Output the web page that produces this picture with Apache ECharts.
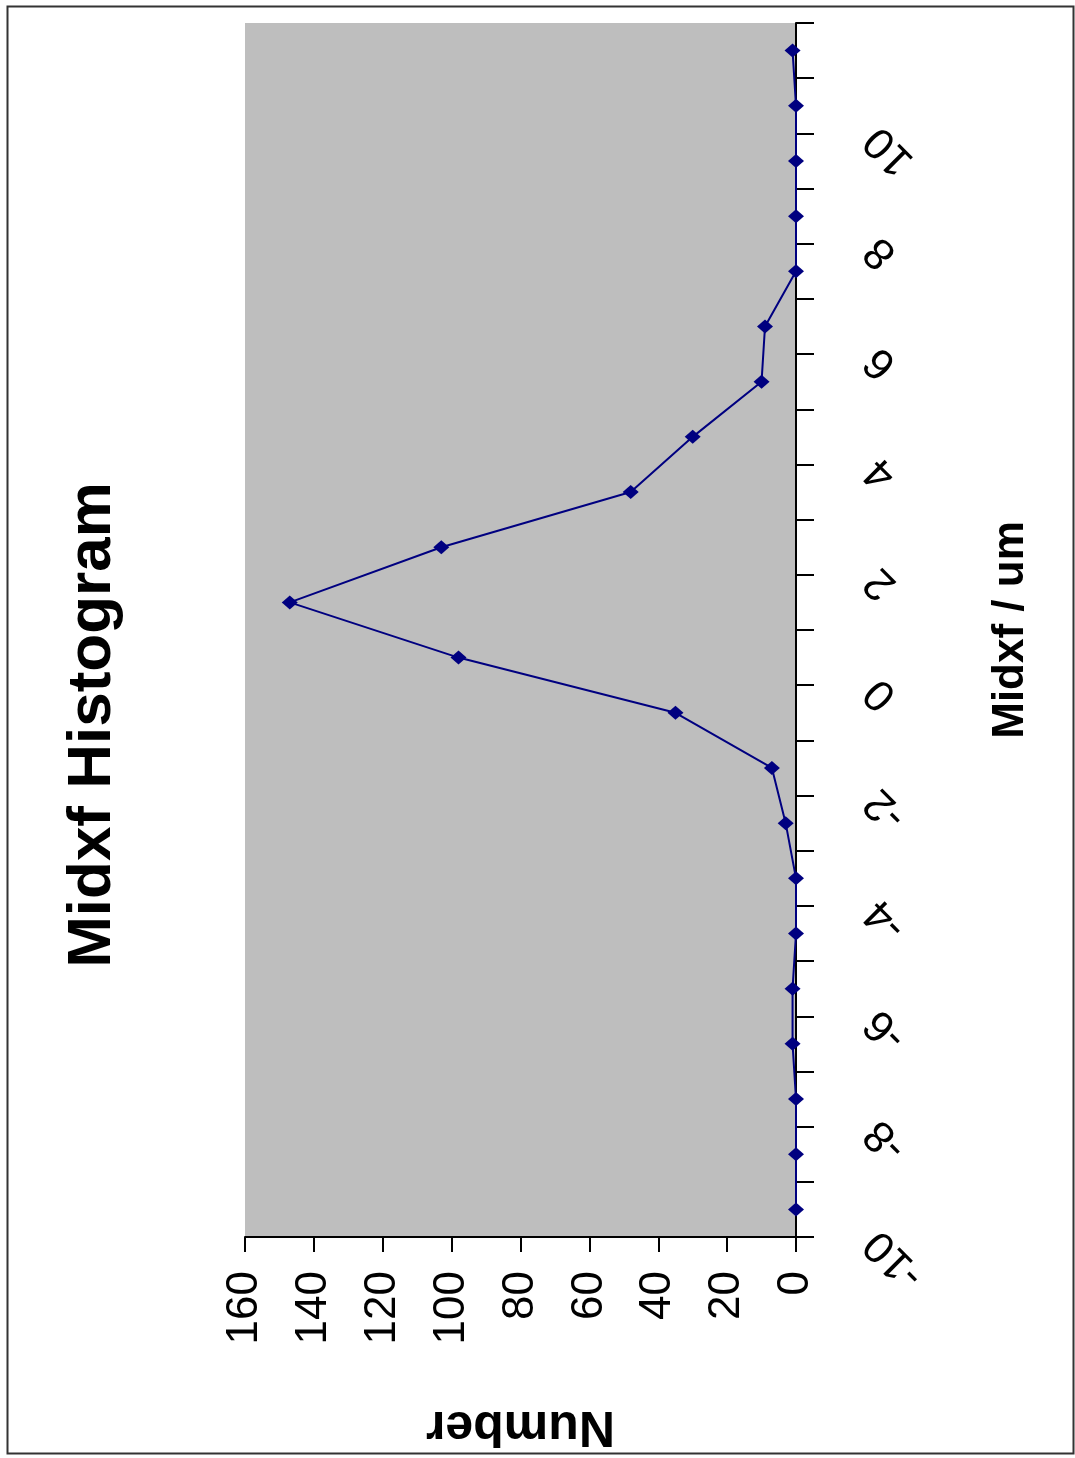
<!DOCTYPE html>
<html>
<head>
<meta charset="utf-8">
<script src="https://cdn.jsdelivr.net/npm/echarts@6/dist/echarts.min.js"></script>
<style>
html,body{margin:0;padding:0;background:#fff;}
#chart{width:1075px;height:1458px;}
</style>
</head>
<body>
<div id="chart"></div>
<script>
var chartTitle = 'Midxf Histogram';
var binCenters = [-9.5,-8.5,-7.5,-6.5,-5.5,-4.5,-3.5,-2.5,-1.5,-0.5,0.5,1.5,2.5,3.5,4.5,5.5,6.5,7.5,8.5,9.5,10.5,11.5];
var counts = [0,0,0,1,1,0,0,3,7,35,98,147,103,48,30,10,9,0,0,0,0,1];
var midxfLabels = [-10,-8,-6,-4,-2,0,2,4,6,8,10];
var numberTicks = [0,20,40,60,80,100,120,140,160];

var chart = echarts.init(document.getElementById('chart'));
var pts = binCenters.map(function(c,i){ return [counts[i], c]; });
var font = 'Arial, "Liberation Sans", sans-serif';

chart.setOption({
  animation:false,
  backgroundColor:'#ffffff',
  graphic:[
    {type:'rect', left:5, top:4, shape:{width:1066, height:1447}, style:{fill:'none', stroke:'#333', lineWidth:2}, z:-1},
    {type:'text', x:93, y:725, rotation:Math.PI/2,
     style:{text:chartTitle, font:'bold 62px ' + font, fill:'#000', align:'center', verticalAlign:'middle'}}
  ],
  grid:{left:245, right:279, top:23, bottom:221, show:true, backgroundColor:'#bebebe', borderWidth:0,
        containLabel:false, outerBoundsMode:'none'},
  xAxis:{
    type:'value', inverse:true, position:'bottom',
    min:numberTicks[0], max:numberTicks[numberTicks.length-1], interval:numberTicks[1]-numberTicks[0],
    axisLine:{show:true, onZero:false, lineStyle:{color:'#000', width:2}},
    axisTick:{show:true, inside:false, length:15, lineStyle:{color:'#000', width:2}},
    splitLine:{show:false},
    axisLabel:{rotate:90, margin:34, fontSize:44, fontFamily:font, color:'#000'},
    name:'Number', nameLocation:'middle', nameRotate:180, nameGap:164,
    nameTextStyle:{fontSize:50, fontWeight:'bold', fontFamily:font, color:'#000'}
  },
  yAxis:{
    type:'value', position:'right',
    min:-10, max:12, interval:1,
    axisLine:{show:true, onZero:false, lineStyle:{color:'#000', width:2}},
    axisTick:{show:true, inside:false, length:18, lineStyle:{color:'#000', width:2}},
    splitLine:{show:false},
    axisLabel:{rotate:135, margin:76, fontSize:44, fontFamily:font, color:'#000',
      formatter:function(v){ return midxfLabels.indexOf(v) >= 0 ? String(v) : ''; }},
    name:'Midxf / um', nameLocation:'middle', nameRotate:90, nameGap:193,
    nameTextStyle:{fontSize:44, fontWeight:'bold', fontFamily:font, color:'#000'}
  },
  series:[{
    type:'line', data:pts, clip:false,
    symbol:'diamond', symbolSize:[16,14], showSymbol:true,
    lineStyle:{color:'#000080', width:2},
    itemStyle:{color:'#000080'}
  }]
});
</script>
</body>
</html>
